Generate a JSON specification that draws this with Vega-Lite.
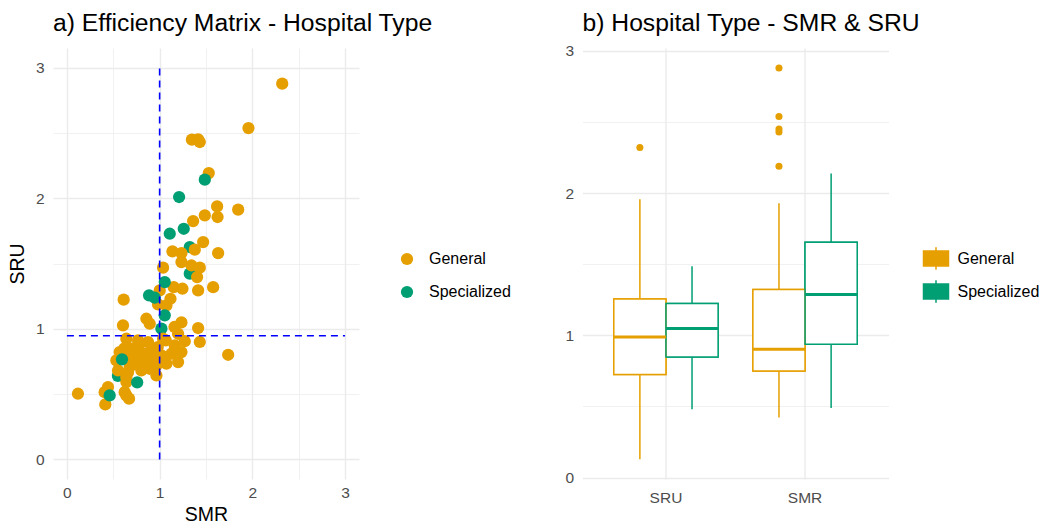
{
  "$schema": "https://vega.github.io/schema/vega-lite/v6.json",
  "background": "white",
  "padding": {"left": 7, "top": 11, "right": 0, "bottom": 0},
  "spacing": 53.5,
  "config": {
    "font": "Liberation Sans",
    "view": {"stroke": null},
    "axis": {
      "domain": false, "ticks": false,
      "labelColor": "#4D4D4D", "labelFontSize": 15.5, "labelFont": "Liberation Sans",
      "titleFontSize": 19.5, "titleFontWeight": "normal", "titleColor": "black", "titleFont": "Liberation Sans",
      "gridColor": "#EBEBEB"
    },
    "legend": {"labelFontSize": 16, "labelColor": "black", "labelFont": "Liberation Sans", "padding": 0},
    "title": {"fontSize": 24.7, "fontWeight": "normal", "anchor": "start", "frame": "group", "color": "black", "font": "Liberation Sans"}
  },
  "resolve": {
    "scale": {"color": "independent", "fill": "independent", "x": "independent", "y": "independent"},
    "legend": {"color": "independent", "fill": "independent"}
  },
  "hconcat": [
    {
      "width": 306, "height": 431,
      "title": {"text": "a) Efficiency Matrix - Hospital Type", "offset": 12},
      "layer": [
        {
          "data": {"values": [
            {"SMR": 1.325, "SRU": 1.626, "Type": "Specialized"},
            {"SMR": 1.325, "SRU": 1.422, "Type": "Specialized"},
            {"SMR": 1.019, "SRU": 1.001, "Type": "Specialized"},
            {"SMR": 0.55, "SRU": 0.64, "Type": "Specialized"},
            {"SMR": 2.322, "SRU": 2.877, "Type": "General"},
            {"SMR": 1.958, "SRU": 2.537, "Type": "General"},
            {"SMR": 1.348, "SRU": 2.448, "Type": "General"},
            {"SMR": 1.415, "SRU": 2.45, "Type": "General"},
            {"SMR": 1.433, "SRU": 2.43, "Type": "General"},
            {"SMR": 1.53, "SRU": 2.192, "Type": "General"},
            {"SMR": 1.62, "SRU": 1.937, "Type": "General"},
            {"SMR": 1.847, "SRU": 1.912, "Type": "General"},
            {"SMR": 1.487, "SRU": 1.868, "Type": "General"},
            {"SMR": 1.625, "SRU": 1.856, "Type": "General"},
            {"SMR": 1.361, "SRU": 1.825, "Type": "General"},
            {"SMR": 1.469, "SRU": 1.664, "Type": "General"},
            {"SMR": 1.379, "SRU": 1.606, "Type": "General"},
            {"SMR": 1.138, "SRU": 1.593, "Type": "General"},
            {"SMR": 1.235, "SRU": 1.58, "Type": "General"},
            {"SMR": 1.631, "SRU": 1.58, "Type": "General"},
            {"SMR": 1.235, "SRU": 1.511, "Type": "General"},
            {"SMR": 1.343, "SRU": 1.485, "Type": "General"},
            {"SMR": 1.433, "SRU": 1.468, "Type": "General"},
            {"SMR": 1.037, "SRU": 1.468, "Type": "General"},
            {"SMR": 1.404, "SRU": 1.396, "Type": "General"},
            {"SMR": 1.577, "SRU": 1.319, "Type": "General"},
            {"SMR": 1.415, "SRU": 1.294, "Type": "General"},
            {"SMR": 1.246, "SRU": 1.307, "Type": "General"},
            {"SMR": 1.152, "SRU": 1.319, "Type": "General"},
            {"SMR": 1.001, "SRU": 1.294, "Type": "General"},
            {"SMR": 0.612, "SRU": 1.223, "Type": "General"},
            {"SMR": 0.983, "SRU": 1.187, "Type": "General"},
            {"SMR": 1.117, "SRU": 1.23, "Type": "General"},
            {"SMR": 1.073, "SRU": 1.179, "Type": "General"},
            {"SMR": 0.857, "SRU": 1.077, "Type": "General"},
            {"SMR": 0.893, "SRU": 1.039, "Type": "General"},
            {"SMR": 0.605, "SRU": 1.026, "Type": "General"},
            {"SMR": 1.235, "SRU": 1.049, "Type": "General"},
            {"SMR": 1.16, "SRU": 1.014, "Type": "General"},
            {"SMR": 1.415, "SRU": 1.006, "Type": "General"},
            {"SMR": 1.199, "SRU": 0.962, "Type": "General"},
            {"SMR": 1.037, "SRU": 0.924, "Type": "General"},
            {"SMR": 0.641, "SRU": 0.924, "Type": "General"},
            {"SMR": 0.767, "SRU": 0.911, "Type": "General"},
            {"SMR": 0.875, "SRU": 0.898, "Type": "General"},
            {"SMR": 1.271, "SRU": 0.905, "Type": "General"},
            {"SMR": 1.433, "SRU": 0.899, "Type": "General"},
            {"SMR": 1.066, "SRU": 0.911, "Type": "General"},
            {"SMR": 1.163, "SRU": 0.873, "Type": "General"},
            {"SMR": 0.569, "SRU": 0.822, "Type": "General"},
            {"SMR": 0.533, "SRU": 0.758, "Type": "General"},
            {"SMR": 0.695, "SRU": 0.848, "Type": "General"},
            {"SMR": 0.731, "SRU": 0.771, "Type": "General"},
            {"SMR": 0.839, "SRU": 0.809, "Type": "General"},
            {"SMR": 0.929, "SRU": 0.796, "Type": "General"},
            {"SMR": 1.019, "SRU": 0.796, "Type": "General"},
            {"SMR": 1.127, "SRU": 0.809, "Type": "General"},
            {"SMR": 1.235, "SRU": 0.822, "Type": "General"},
            {"SMR": 1.199, "SRU": 0.745, "Type": "General"},
            {"SMR": 1.073, "SRU": 0.733, "Type": "General"},
            {"SMR": 0.965, "SRU": 0.72, "Type": "General"},
            {"SMR": 0.551, "SRU": 0.681, "Type": "General"},
            {"SMR": 0.659, "SRU": 0.668, "Type": "General"},
            {"SMR": 0.803, "SRU": 0.681, "Type": "General"},
            {"SMR": 0.893, "SRU": 0.694, "Type": "General"},
            {"SMR": 0.965, "SRU": 0.643, "Type": "General"},
            {"SMR": 0.641, "SRU": 0.592, "Type": "General"},
            {"SMR": 0.443, "SRU": 0.554, "Type": "General"},
            {"SMR": 0.641, "SRU": 0.49, "Type": "General"},
            {"SMR": 0.414, "SRU": 0.421, "Type": "General"},
            {"SMR": 0.67, "SRU": 0.465, "Type": "General"},
            {"SMR": 0.119, "SRU": 0.503, "Type": "General"},
            {"SMR": 0.407, "SRU": 0.515, "Type": "General"},
            {"SMR": 0.623, "SRU": 0.515, "Type": "General"},
            {"SMR": 1.739, "SRU": 0.801, "Type": "General"},
            {"SMR": 0.749, "SRU": 0.835, "Type": "General"},
            {"SMR": 0.821, "SRU": 0.783, "Type": "General"},
            {"SMR": 0.929, "SRU": 0.707, "Type": "General"},
            {"SMR": 0.857, "SRU": 0.74, "Type": "General"},
            {"SMR": 0.677, "SRU": 0.707, "Type": "General"},
            {"SMR": 0.785, "SRU": 0.886, "Type": "General"},
            {"SMR": 0.911, "SRU": 0.835, "Type": "General"},
            {"SMR": 0.641, "SRU": 0.63, "Type": "General"},
            {"SMR": 0.6, "SRU": 0.8, "Type": "General"},
            {"SMR": 0.75, "SRU": 0.73, "Type": "General"},
            {"SMR": 0.7, "SRU": 0.78, "Type": "General"},
            {"SMR": 0.82, "SRU": 0.74, "Type": "General"},
            {"SMR": 0.62, "SRU": 0.85, "Type": "General"},
            {"SMR": 0.98, "SRU": 0.86, "Type": "General"},
            {"SMR": 1.487, "SRU": 2.142, "Type": "Specialized"},
            {"SMR": 1.21, "SRU": 2.009, "Type": "Specialized"},
            {"SMR": 1.26, "SRU": 1.766, "Type": "Specialized"},
            {"SMR": 1.109, "SRU": 1.728, "Type": "Specialized"},
            {"SMR": 1.055, "SRU": 1.358, "Type": "Specialized"},
            {"SMR": 0.886, "SRU": 1.256, "Type": "Specialized"},
            {"SMR": 0.947, "SRU": 1.238, "Type": "Specialized"},
            {"SMR": 1.055, "SRU": 1.103, "Type": "Specialized"},
            {"SMR": 0.594, "SRU": 0.766, "Type": "Specialized"},
            {"SMR": 0.758, "SRU": 0.59, "Type": "Specialized"},
            {"SMR": 0.461, "SRU": 0.49, "Type": "Specialized"}
          ]},
          "mark": {"type": "point", "filled": true, "opacity": 1, "size": 150, "strokeWidth": 0},
          "encoding": {
            "x": {"field": "SMR", "type": "quantitative",
              "scale": {"domain": [-0.15, 3.15], "nice": false, "zero": false},
              "axis": {"values": [0, 0.5, 1, 1.5, 2, 2.5, 3], "labelExpr": "datum.value % 1 === 0 ? format(datum.value, 'd') : ''",
                "gridWidth": {"condition": {"test": "datum.value % 1 === 0", "value": 1.4}, "value": 0.7},
                "labelPadding": 6, "titlePadding": 5, "title": "SMR"}},
            "y": {"field": "SRU", "type": "quantitative",
              "scale": {"domain": [-0.15, 3.15], "nice": false, "zero": false},
              "axis": {"values": [0, 0.5, 1, 1.5, 2, 2.5, 3], "labelExpr": "datum.value % 1 === 0 ? format(datum.value, 'd') : ''",
                "gridWidth": {"condition": {"test": "datum.value % 1 === 0", "value": 1.4}, "value": 0.7},
                "labelPadding": 9, "titlePadding": 8, "title": "SRU"}},
            "color": {"field": "Type", "type": "nominal",
              "scale": {"domain": ["General", "Specialized"], "range": ["#E69F00", "#009E73"]},
              "legend": {"title": null, "orient": "none", "legendX": 346, "legendY": 203,
                "symbolType": "circle", "symbolSize": 150, "labelOffset": 14, "rowPadding": 17}}
          }
        },
        {
          "data": {"values": [
            {"x1": 1, "x2": 1, "y1": 0, "y2": 3},
            {"x1": 0, "x2": 3, "y1": 0.947, "y2": 0.947}
          ]},
          "mark": {"type": "rule", "color": "#0000FF", "strokeDash": [7, 5], "strokeWidth": 1.6},
          "encoding": {
            "x": {"field": "x1", "type": "quantitative"},
            "x2": {"field": "x2"},
            "y": {"field": "y1", "type": "quantitative"},
            "y2": {"field": "y2"}
          }
        }
      ]
    },
    {
      "width": 306, "height": 431,
      "title": {"text": "b) Hospital Type - SMR & SRU", "offset": 8},
      "encoding": {
        "x": {"field": "metric", "type": "nominal", "sort": ["SRU", "SMR"],
          "scale": {"paddingInner": 0.25, "paddingOuter": 0.225},
          "axis": {"title": null, "labelAngle": 0, "grid": true, "bandPosition": 0.5, "gridWidth": 1.4, "labelPadding": 11}},
        "xOffset": {"field": "Type", "type": "nominal", "scale": {"domain": ["General", "Specialized"], "paddingInner": 0, "paddingOuter": 0}}
      },
      "layer": [
        {
          "data": {"name": "box", "values": [
            {"metric": "SRU", "Type": "General", "lower": 0.129, "q1": 0.724, "median": 0.989, "q3": 1.256, "upper": 1.957},
            {"metric": "SRU", "Type": "Specialized", "lower": 0.48, "q1": 0.848, "median": 1.048, "q3": 1.223, "upper": 1.486},
            {"metric": "SMR", "Type": "General", "lower": 0.422, "q1": 0.75, "median": 0.902, "q3": 1.322, "upper": 1.929},
            {"metric": "SMR", "Type": "Specialized", "lower": 0.49, "q1": 0.937, "median": 1.287, "q3": 1.655, "upper": 2.137}
          ]},
          "mark": {"type": "bar", "filled": false, "strokeWidth": 1.5},
          "encoding": {
            "y": {"field": "q1", "type": "quantitative",
              "scale": {"domain": [-0.01, 3.02], "nice": false, "zero": false},
              "axis": {"title": null, "values": [0, 0.5, 1, 1.5, 2, 2.5, 3], "labelExpr": "datum.value % 1 === 0 ? format(datum.value, 'd') : ''",
                "gridWidth": {"condition": {"test": "datum.value % 1 === 0", "value": 1.4}, "value": 0.7}, "labelPadding": 9}},
            "y2": {"field": "q3"},
            "color": {"field": "Type", "type": "nominal",
              "scale": {"domain": ["General", "Specialized"], "range": ["#E69F00", "#009E73"]},
              "legend": {"title": null, "orient": "none", "legendX": 340, "legendY": 197,
                "symbolType": "M-1,-0.6H1V0.6H-1Z M-1,0H1 M0,-0.6V-0.9 M0,0.6V0.9",
                "symbolSize": 625, "symbolStrokeWidth": 1.5, "labelOffset": 8, "rowPadding": 4,
                "encode": {"symbols": {"fill": {"value": "white"}, "strokeWidth": {"value": 1.5}}}}}
          }
        },
        {
          "data": {"name": "box"},
          "mark": {"type": "rule", "strokeWidth": 1.5},
          "encoding": {
            "y": {"field": "lower", "type": "quantitative"},
            "y2": {"field": "upper"},
            "color": {"field": "Type", "type": "nominal"}
          }
        },
        {
          "data": {"name": "box"},
          "mark": {"type": "bar", "fill": "white", "strokeWidth": 0},
          "encoding": {
            "y": {"field": "q1", "type": "quantitative"},
            "y2": {"field": "q3"}
          }
        },
        {
          "data": {"name": "box"},
          "mark": {"type": "bar", "filled": false, "strokeWidth": 1.5},
          "encoding": {
            "y": {"field": "q1", "type": "quantitative"},
            "y2": {"field": "q3"},
            "color": {"field": "Type", "type": "nominal"}
          }
        },
        {
          "data": {"name": "box"},
          "mark": {"type": "bar", "filled": false, "strokeWidth": 3},
          "encoding": {
            "y": {"field": "median", "type": "quantitative"},
            "y2": {"field": "median"},
            "color": {"field": "Type", "type": "nominal"}
          }
        },
        {
          "data": {"values": [
            {"metric": "SRU", "Type": "General", "value": 2.32},
            {"metric": "SMR", "Type": "General", "value": 2.88},
            {"metric": "SMR", "Type": "General", "value": 2.538},
            {"metric": "SMR", "Type": "General", "value": 2.451},
            {"metric": "SMR", "Type": "General", "value": 2.43},
            {"metric": "SMR", "Type": "General", "value": 2.189}
          ]},
          "mark": {"type": "point", "filled": true, "opacity": 1, "size": 50, "strokeWidth": 0},
          "encoding": {
            "y": {"field": "value", "type": "quantitative"},
            "fill": {"field": "Type", "type": "nominal",
              "scale": {"domain": ["General", "Specialized"], "range": ["#E69F00", "#009E73"]}, "legend": null}
          }
        }
      ]
    }
  ]
}
